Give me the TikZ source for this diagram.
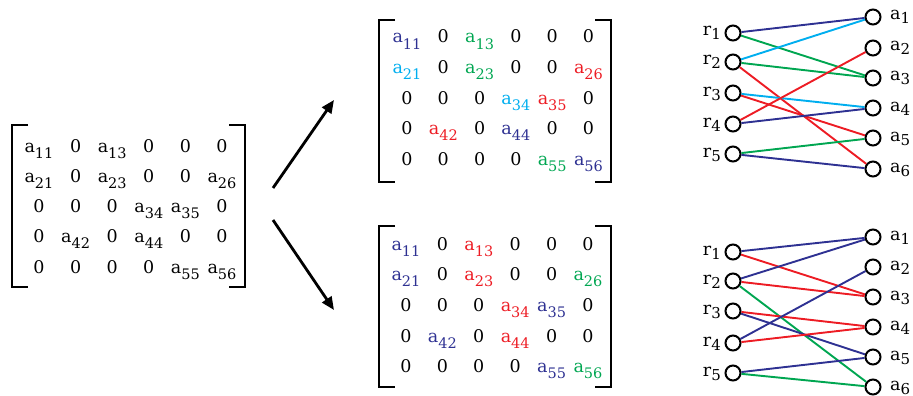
\documentclass[tikz,border=0pt]{standalone}
\usepackage{fontspec}
\setmainfont{DejaVu Serif}
\usetikzlibrary{arrows.meta}
\definecolor{nv}{HTML}{2E3192}
\definecolor{cy}{HTML}{00AEEF}
\definecolor{gn}{HTML}{00A651}
\definecolor{rd}{HTML}{ED1C24}
\newcommand{\ent}[1]{a\raisebox{-6pt}{\fontsize{14.5}{14.5}\selectfont #1}}
\newcommand{\vlb}[2]{#1\raisebox{-4pt}{\fontsize{15}{15}\selectfont #2}}
\begin{document}
\begin{tikzpicture}[x=1pt,y=-1pt,
  entry/.style={anchor=base, inner sep=0pt, font=\fontsize{17.5}{17.5}\selectfont},
  brk/.style={line width=2pt, line cap=butt},
  vtx/.style={circle, draw, line width=2pt, minimum size=15pt, inner sep=0pt},
  edg/.style={line width=1.9pt},
  bigarrow/.style={line width=2.8pt, -{Triangle[length=13pt,width=11pt]}},
  vlab/.style={inner sep=0pt, font=\fontsize{17.5}{17.5}\selectfont}
]
\useasboundingbox (0,0) rectangle (913,396);

% ---------- left matrix ----------
\foreach \rowlist [count=\r] in {
  {\ent{11}/black,0/black,\ent{13}/black,0/black,0/black,0/black},
  {\ent{21}/black,0/black,\ent{23}/black,0/black,0/black,\ent{26}/black},
  {0/black,0/black,0/black,\ent{34}/black,\ent{35}/black,0/black},
  {0/black,\ent{42}/black,0/black,\ent{44}/black,0/black,0/black},
  {0/black,0/black,0/black,0/black,\ent{55}/black,\ent{56}/black}}{
  \foreach \t/\cl [count=\c] in \rowlist {
    \node[entry, text=\cl] (L-\r-\c) at ({39+36.6*(\c-1)}, {152+30.3*(\r-1)}) {\t};
  }
}
\draw[brk] (28,125) -- (12,125) -- (12,287) -- (28,287);
\draw[brk] (229,125) -- (245,125) -- (245,287) -- (229,287);

% ---------- top matrix ----------
\foreach \rowlist [count=\r] in {
  {\ent{11}/nv,0/black,\ent{13}/gn,0/black,0/black,0/black},
  {\ent{21}/cy,0/black,\ent{23}/gn,0/black,0/black,\ent{26}/rd},
  {0/black,0/black,0/black,\ent{34}/cy,\ent{35}/rd,0/black},
  {0/black,\ent{42}/rd,0/black,\ent{44}/nv,0/black,0/black},
  {0/black,0/black,0/black,0/black,\ent{55}/gn,\ent{56}/nv}}{
  \foreach \t/\cl [count=\c] in \rowlist {
    \node[entry, text=\cl] (T-\r-\c) at ({407+36.3*(\c-1)}, {43+30.5*(\r-1)}) {\t};
  }
}
\draw[brk] (395,20) -- (379,20) -- (379,182) -- (395,182);
\draw[brk] (595,20) -- (611,20) -- (611,182) -- (595,182);

% ---------- bottom matrix ----------
\foreach \rowlist [count=\r] in {
  {\ent{11}/nv,0/black,\ent{13}/rd,0/black,0/black,0/black},
  {\ent{21}/nv,0/black,\ent{23}/rd,0/black,0/black,\ent{26}/gn},
  {0/black,0/black,0/black,\ent{34}/rd,\ent{35}/nv,0/black},
  {0/black,\ent{42}/nv,0/black,\ent{44}/rd,0/black,0/black},
  {0/black,0/black,0/black,0/black,\ent{55}/nv,\ent{56}/gn}}{
  \foreach \t/\cl [count=\c] in \rowlist {
    \node[entry, text=\cl] (B-\r-\c) at ({406+36.4*(\c-1)}, {250+30.7*(\r-1)}) {\t};
  }
}
\draw[brk] (395,226) -- (379,226) -- (379,387) -- (395,387);
\draw[brk] (595,226) -- (611,226) -- (611,387) -- (595,387);

% ---------- arrows ----------
\coordinate (up0) at (273,188);
\coordinate (up1) at (334,100);
\coordinate (dn0) at (273,220);
\coordinate (dn1) at (334,310);
\draw[bigarrow] (up0) -- (up1);
\draw[bigarrow] (dn0) -- (dn1);

% ---------- top graph ----------
\foreach \i/\y in {1/33,2/62,3/93,4/124,5/154}{
  \node[vtx] (tr\i) at (733,\y) {};
  \node[vlab, anchor=base east] (ltr\i) at (721,\y+3) {\vlb{r}{\i}};
}
\foreach \j/\y in {1/17,2/48,3/78,4/108,5/138,6/169}{
  \node[vtx] (ta\j) at (873,\y) {};
  \node[vlab, anchor=base west] (lta\j) at (890,\y+3) {\vlb{a}{\j}};
}
\draw[edg, nv] (tr1) -- (ta1);
\draw[edg, gn] (tr1) -- (ta3);
\draw[edg, cy] (tr2) -- (ta1);
\draw[edg, gn] (tr2) -- (ta3);
\draw[edg, rd] (tr2) -- (ta6);
\draw[edg, cy] (tr3) -- (ta4);
\draw[edg, rd] (tr3) -- (ta5);
\draw[edg, rd] (tr4) -- (ta2);
\draw[edg, nv] (tr4) -- (ta4);
\draw[edg, gn] (tr5) -- (ta5);
\draw[edg, nv] (tr5) -- (ta6);

% ---------- bottom graph ----------
\foreach \i/\y in {1/252,2/281,3/311,4/343,5/373}{
  \node[vtx] (br\i) at (733,\y) {};
  \node[vlab, anchor=base east] (lbr\i) at (721,\y+3) {\vlb{r}{\i}};
}
\foreach \j/\y in {1/237,2/267,3/297,4/327,5/357,6/387}{
  \node[vtx] (ba\j) at (873,\y) {};
  \node[vlab, anchor=base west] (lba\j) at (890,\y+3) {\vlb{a}{\j}};
}
\draw[edg, nv] (br1) -- (ba1);
\draw[edg, rd] (br1) -- (ba3);
\draw[edg, nv] (br2) -- (ba1);
\draw[edg, rd] (br2) -- (ba3);
\draw[edg, gn] (br2) -- (ba6);
\draw[edg, rd] (br3) -- (ba4);
\draw[edg, nv] (br3) -- (ba5);
\draw[edg, nv] (br4) -- (ba2);
\draw[edg, rd] (br4) -- (ba4);
\draw[edg, nv] (br5) -- (ba5);
\draw[edg, gn] (br5) -- (ba6);
\end{tikzpicture}
\end{document}
